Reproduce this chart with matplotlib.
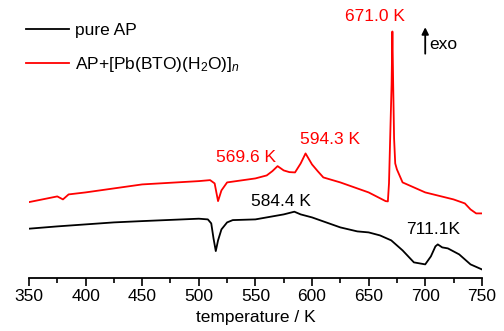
import numpy as np
import matplotlib
matplotlib.use('Agg')
from matplotlib import pyplot as plt
from matplotlib.ticker import MultipleLocator

plt.rcParams['font.family'] = ['Liberation Sans', 'DejaVu Sans']
plt.rcParams['mathtext.fontset'] = 'custom'
plt.rcParams['mathtext.rm'] = 'Liberation Sans'
plt.rcParams['mathtext.it'] = 'Liberation Sans:italic'

# DSC curves (heat flow, arbitrary units)
t_ap = [350, 375, 400, 425, 450, 475, 500, 508, 511, 513, 515, 517, 520, 525, 530,
        550, 575, 584.4, 590, 600, 610, 625, 640, 650, 660, 670, 680, 690, 700,
        705, 709, 711.1, 715, 720, 730, 740, 750]
hf_ap = [49.7, 52, 54, 56, 57.3, 58.5, 59.7, 59, 55, 40, 27.3, 38, 49, 56, 58.3,
         59, 64, 66.7, 64, 61, 57, 51, 47, 46, 43, 38, 28, 16, 14,
         22, 32, 34, 31, 30, 24, 14, 9]

t_mix = [350, 375, 380, 385, 400, 450, 500, 510, 514, 517, 520, 525, 550, 560, 565,
         569.6, 575, 580, 585, 590, 594.3, 600, 605, 610, 625, 650, 665, 667, 668,
         669.5, 670.3, 671, 671.7, 672.5, 673.5, 675, 680, 700, 725, 735, 740, 745, 750]
hf_mix = [76.3, 82, 79, 84, 86, 94, 97.3, 98.3, 95, 77.3, 88, 96, 100, 103, 107.3,
          112.3, 108, 106.3, 106, 115, 125, 114, 107.3, 101, 96, 86, 77.3, 77, 95,
          160, 194, 247, 194, 140, 115, 109, 96, 86, 79, 75, 69, 65, 65]

fig = plt.figure(figsize=(5.04, 3.31), dpi=100)
ax = fig.add_axes([0.0575, 0.159, 0.8985, 0.841])

ax.plot(t_ap, hf_ap, color='black', lw=1.3, label='pure AP')
ax.plot(t_mix, hf_mix, color='#ff0000', lw=1.3, label=r'AP+[Pb(BTO)(H$_2$O)]$_n$')

ax.set_xlim(350, 750)
ax.set_ylim(0, 278.5)
ax.xaxis.set_major_locator(MultipleLocator(50))
ax.xaxis.set_minor_locator(MultipleLocator(25))
ax.tick_params(axis='x', which='major', direction='out', length=6, width=1.2, labelsize=12.5, pad=2)
ax.tick_params(axis='x', which='minor', direction='out', length=3.5, width=1.2)
ax.set_yticks([])
for s in ['left', 'top', 'right']:
    ax.spines[s].set_visible(False)
ax.spines['bottom'].set_linewidth(1.3)
ax.set_xlabel('temperature / K', fontsize=12.5, labelpad=4)

# peak labels
ax.text(656, 262, '671.0 K', color='#ff0000', fontsize=12.5, ha='center', va='center')
ax.text(615.8, 139, '594.3 K', color='#ff0000', fontsize=12.5, ha='center', va='center')
ax.text(541.6, 121, '569.6 K', color='#ff0000', fontsize=12.5, ha='center', va='center')
ax.text(572.5, 77, '584.4 K', color='black', fontsize=12.5, ha='center', va='center')
ax.text(706.7, 49, '711.1K', color='black', fontsize=12.5, ha='center', va='center')

# exo arrow
ax.annotate('', xy=(700, 254), xytext=(700, 222),
            arrowprops=dict(arrowstyle='-|>', color='black', lw=1.3, mutation_scale=10))
ax.text(704, 234, 'exo', fontsize=12.5, ha='left', va='center')

ax.legend(loc='upper left', bbox_to_anchor=(-0.0066, 0.918), frameon=False, fontsize=12.5,
          handlelength=2.5, handletextpad=0.3, labelspacing=1.0,
          borderpad=0, borderaxespad=0)

plt.savefig('out.png', dpi=100)
